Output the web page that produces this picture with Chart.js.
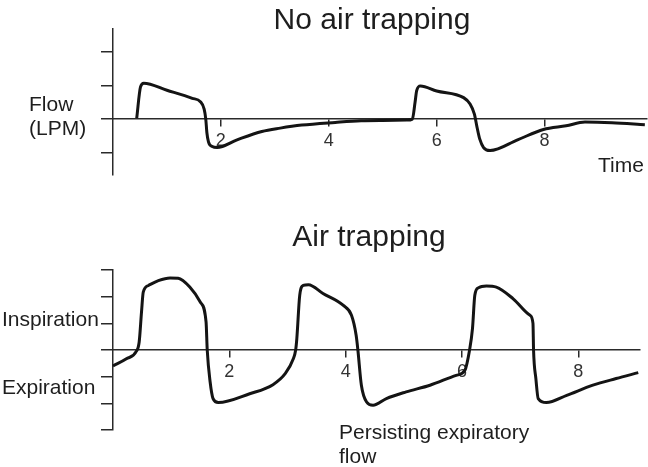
<!DOCTYPE html>
<html>
<head>
<meta charset="utf-8">
<script src="https://cdn.jsdelivr.net/npm/chart.js@4/dist/chart.umd.min.js"></script>
<style>
  html, body { margin: 0; padding: 0; background: #fff; }
  #wrap { position: relative; width: 648px; height: 467px; overflow: hidden; }
  canvas { position: absolute; left: 0; top: 0; }
  .lbl { position: absolute; font-family: "Liberation Sans", Arial, sans-serif; line-height: 1; white-space: nowrap; color: #1e1e1e; }
</style>
</head>
<body>
<div id="wrap">
  <canvas id="normal" width="648" height="467"></canvas>
  <canvas id="trapped" width="648" height="467"></canvas>
</div>
<script>
// Time axis labels
const timeTicks = [2, 4, 6, 8];

// Normal breathing: expiratory flow returns to zero before the next breath
const normalTime = [0.44, 0.51, 0.57, 1.0, 1.47, 1.62, 1.69, 1.72, 1.74, 1.77, 1.84, 1.93,
  2.3, 2.76, 3.1, 3.5, 4.12, 4.6, 5.0, 5.45, 5.55, 5.6, 5.63, 5.70, 6.0, 6.5, 6.62, 6.7,
  6.75, 6.8, 6.87, 6.99, 7.5, 7.98, 8.4, 8.75, 9.25, 9.86];
const normalFlow = [0.03, 0.96, 1.07, 0.86, 0.62, 0.52, 0.3, 0.0, -0.4, -0.68, -0.82, -0.85,
  -0.62, -0.37, -0.27, -0.18, -0.1, -0.05, -0.04, -0.03, 0.0, 0.5, 0.85, 0.99, 0.84, 0.64, 0.45, 0.15,
  -0.25, -0.6, -0.85, -0.94, -0.62, -0.31, -0.2, -0.09, -0.11, -0.17];

// Air trapping: the next breath starts before expiratory flow reaches zero
const trapTime = [0.0, 0.23, 0.40, 0.45, 0.49, 0.52, 0.61, 0.78, 0.98, 1.12, 1.32, 1.50, 1.60,
  1.62, 1.67, 1.72, 1.81, 2.35, 2.75, 2.96, 3.10, 3.14, 3.16, 3.21, 3.27, 3.36, 3.61, 3.96,
  4.10, 4.18, 4.21, 4.27, 4.36, 4.47, 4.70, 5.04, 5.45, 5.90, 6.05, 6.13, 6.18, 6.22, 6.28,
  6.42, 6.59, 6.88, 7.17, 7.22, 7.23, 7.27, 7.31, 7.45, 7.80, 8.25, 8.65, 9.03];
const trapFlow = [-0.6, -0.33, -0.05, 0.3, 1.42, 2.17, 2.42, 2.6, 2.7, 2.69, 2.36, 1.8, 1.05,
  0.0, -1.2, -1.82, -1.97, -1.64, -1.3, -0.89, -0.33, 0.0, 0.42, 2.05, 2.42, 2.45, 2.12, 1.67,
  1.3, 0.55, 0.0, -1.32, -1.95, -2.07, -1.82, -1.57, -1.32, -0.95, -0.76, 0.0, 0.8, 2.05, 2.33,
  2.4, 2.36, 1.92, 1.3, 1.0, 0.0, -1.07, -1.82, -1.97, -1.7, -1.32, -1.07, -0.85];

// Flow axis tick positions
const normalFlowTicks = [-1, 0, 1, 2];
const trapFlowTicks = [-3, -2, -1, 0, 1, 2, 3];

const AXIS = '#2a2a2a';
const FONT = '"Liberation Sans", Arial, sans-serif';

function flowChart(id, times, flows, flowTicks, xMax, yMin, yMax, pad) {
  const points = times.map((t, i) => ({ x: t, y: flows[i] }));
  return new Chart(document.getElementById(id), {
    type: 'line',
    data: {
      datasets: [{
        data: points,
        borderColor: '#141414',
        borderWidth: 3,
        pointRadius: 0,
        fill: false,
        cubicInterpolationMode: 'monotone',
        clip: false
      }]
    },
    options: {
      responsive: false,
      devicePixelRatio: 1,
      animation: false,
      layout: { padding: pad },
      plugins: { legend: { display: false }, tooltip: { enabled: false } },
      scales: {
        x: {
          type: 'linear', min: 0, max: xMax,
          position: { y: 0 },
          border: { display: true, color: AXIS, width: 1.5 },
          grid: { drawOnChartArea: false, drawTicks: true, tickLength: 7, color: AXIS, lineWidth: 1.5 },
          ticks: { font: { family: FONT, size: 18 }, color: '#333', padding: 4, maxRotation: 0, autoSkip: false },
          afterBuildTicks: s => { s.ticks = timeTicks.map(v => ({ value: v })); }
        },
        y: {
          type: 'linear', min: yMin, max: yMax,
          position: { x: 0 },
          border: { display: true, color: AXIS, width: 1.5 },
          grid: { drawOnChartArea: false, drawTicks: true, tickLength: 11, color: AXIS, lineWidth: 1.5 },
          ticks: { display: false },
          afterBuildTicks: s => { s.ticks = flowTicks.map(v => ({ value: v })); }
        }
      }
    }
  });
}

flowChart('normal', normalTime, normalFlow, normalFlowTicks, 9.9, -1.67, 2.69,
  { left: 113, right: 1, top: 29, bottom: 292 });
flowChart('trapped', trapTime, trapFlow, trapFlowTicks, 9.06, -3, 3,
  { left: 113, right: 8, top: 270, bottom: 37 });

// Titles and annotations, placed by baseline
const labels = [
  { text: 'No air trapping', x: 372, base: 29, size: 30, center: true },
  { text: 'Flow', x: 29, base: 111, size: 21 },
  { text: '(LPM)', x: 29, base: 135, size: 21 },
  { text: 'Time', x: 598, base: 172, size: 21 },
  { text: 'Air trapping', x: 369, base: 246, size: 30, center: true },
  { text: 'Inspiration', x: 2, base: 326, size: 21 },
  { text: 'Expiration', x: 2, base: 394, size: 21 },
  { text: 'Persisting expiratory', x: 339, base: 439, size: 21 },
  { text: 'flow', x: 339, base: 463, size: 21 }
];
const wrap = document.getElementById('wrap');
labels.forEach(l => {
  const d = document.createElement('div');
  d.className = 'lbl';
  d.textContent = l.text;
  d.style.fontSize = l.size + 'px';
  d.style.top = (l.base - 0.8465 * l.size) + 'px';
  d.style.left = l.x + 'px';
  if (l.center) d.style.transform = 'translateX(-50%)';
  wrap.appendChild(d);
});
</script>
</body>
</html>
